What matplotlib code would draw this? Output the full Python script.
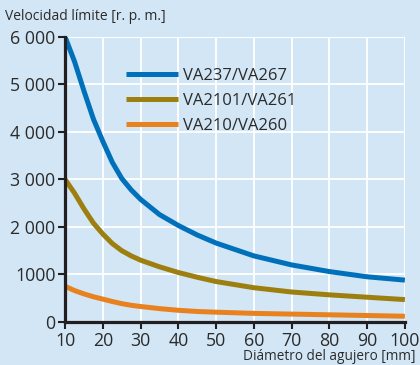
import matplotlib
matplotlib.use("Agg")
import matplotlib.pyplot as plt

diam = [10, 12.5, 15, 17.5, 20, 22.5, 25, 27.5, 30, 35, 40, 45, 50, 60, 70, 80, 90, 100]
va237 = [6000, 5480, 4860, 4270, 3800, 3360, 3020, 2780, 2580, 2260, 2030, 1830, 1660, 1390, 1200, 1060, 950, 880]
va2101 = [3000, 2710, 2380, 2080, 1850, 1650, 1500, 1390, 1300, 1160, 1040, 940, 850, 720, 630, 570, 520, 470]
va210 = [750, 660, 590, 530, 480, 430, 385, 350, 325, 280, 245, 220, 205, 180, 165, 150, 135, 120]
labels = ["VA237/VA267", "VA2101/VA261", "VA210/VA260"]
colors = ["#0070BA", "#9C7F0E", "#E8821E"]
xticks = [10, 20, 30, 40, 50, 60, 70, 80, 90, 100]
yticks = [0, 1000, 2000, 3000, 4000, 5000, 6000]
yticklabels = ["0", "1000", "2 000", "3 000", "4 000", "5 000", "6 000"]

plt.rcParams['font.family'] = ['Open Sans', 'DejaVu Sans']
bg = "#D2E6F5"
txt = "#2B2B2B"

fig = plt.figure(figsize=(4.2, 3.65), dpi=100, facecolor=bg)
ax = fig.add_axes([0.155, 0.118, 0.809, 0.781], facecolor=bg)

for y, lab, c in zip([va237, va2101, va210], labels, colors):
    ax.plot(diam, y, color=c, lw=3.6, label=lab, solid_capstyle='butt',
            solid_joinstyle='round')

ax.set_xlim(10, 100)
ax.set_ylim(0, 6000)
ax.set_xticks(xticks)
ax.set_yticks(yticks)
ax.set_yticklabels(yticklabels)
ax.grid(True, color="white", lw=1.3)
ax.set_axisbelow(True)
for s in ["top", "right"]:
    ax.spines[s].set_visible(False)
for s in ["left", "bottom"]:
    ax.spines[s].set_linewidth(2.3)
    ax.spines[s].set_color("#231F20")
ax.tick_params(axis='both', direction='out', length=5, width=1.5, color="#231F20",
               labelsize=12.8, labelcolor=txt, pad=2)
ax.axhline(6000, color="white", lw=1.3, zorder=0.5)
ax.axvline(100, color="white", lw=1.3, zorder=0.5)

leg = ax.legend(loc='upper left', bbox_to_anchor=(0.16, 0.914), frameon=False,
                fontsize=12, handlelength=3.1, handletextpad=0.3, labelspacing=0.54,
                borderaxespad=0)
for t in leg.get_texts():
    t.set_color(txt)

fig.text(0.012, 0.955, "Velocidad límite [r. p. m.]", fontsize=10, color=txt, va='center', ha='left')
fig.text(0.99, 0.022, "Diámetro del agujero [mm]", fontsize=9.8, color=txt, va='center', ha='right')

fig.savefig("out.png", dpi=100, facecolor=bg)
